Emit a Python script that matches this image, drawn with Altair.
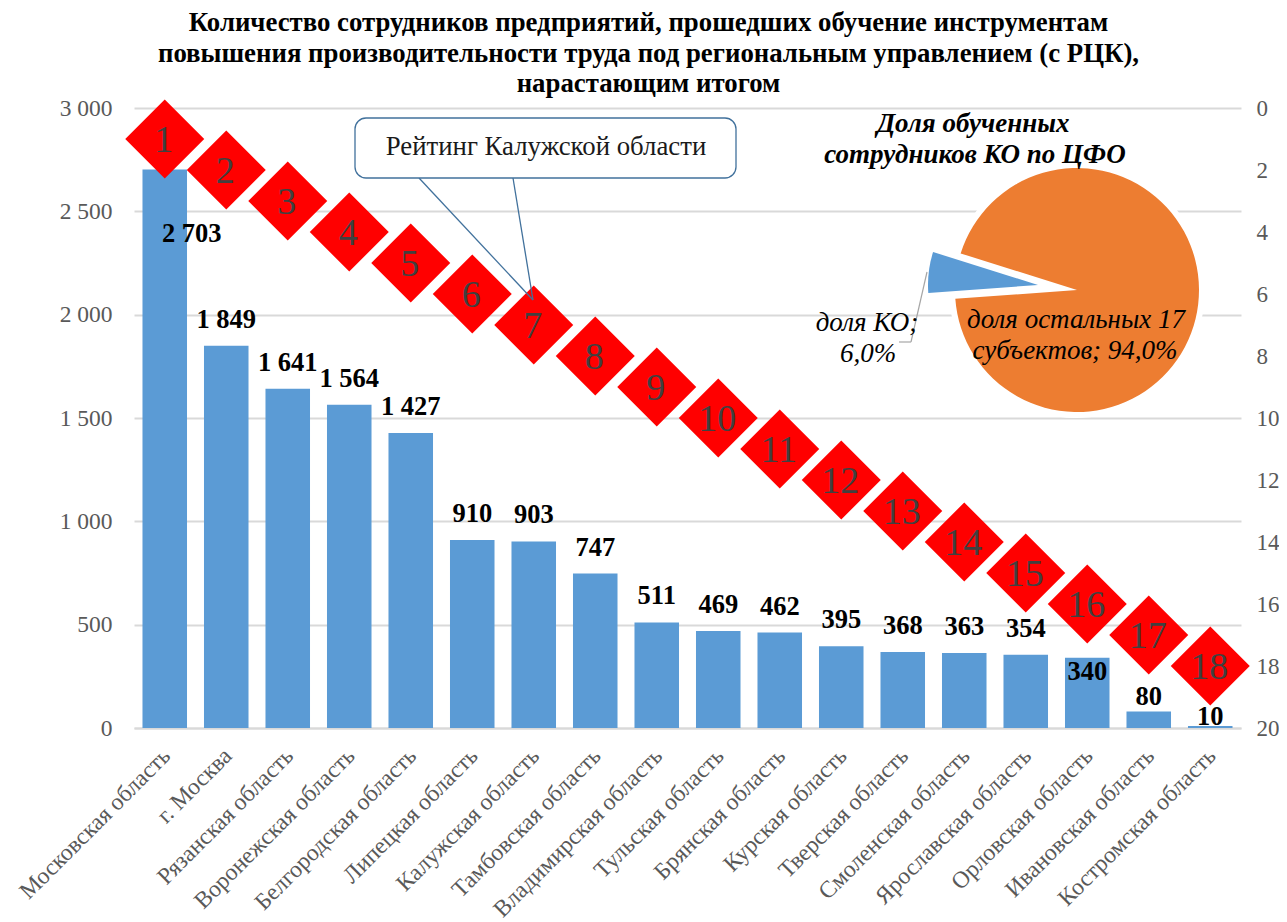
import altair as alt
import pandas as pd

regions = ["Московская область", "г. Москва", "Рязанская область", "Воронежская область",
           "Белгородская область", "Липецкая область", "Калужская область", "Тамбовская область",
           "Владимирская область", "Тульская область", "Брянская область", "Курская область",
           "Тверская область", "Смоленская область", "Ярославская область", "Орловская область",
           "Ивановская область", "Костромская область"]
trained = [2703, 1849, 1641, 1564, 1427, 910, 903, 747, 511, 469, 462, 395, 368, 363, 354, 340, 80, 10]
ranks = list(range(1, 19))
share_names = ["доля КО", "доля остальных 17 субъектов"]
shares = [6.0, 94.0]

title_lines = ["Количество сотрудников предприятий, прошедших обучение инструментам",
               "повышения производительности труда под региональным управлением (с РЦК),",
               "нарастающим итогом"]

SERIF = "Liberation Serif"
GRID = "#d9d9d9"
GREY = "#595959"
L, T, W, H = 134, 108, 1107, 620

df = pd.DataFrame({"region": regions, "value": trained, "rank": ranks})
df["label"] = [f"{v:,}".replace(",", " ") for v in trained]

x_enc = alt.X("region:N", sort=regions, title=None,
              scale=alt.Scale(paddingInner=0.276, paddingOuter=0.138),
              axis=alt.Axis(labelAngle=-45, labelAlign="right", labelBaseline="middle",
                            labelFont=SERIF, labelFontSize=23.6, labelColor=GREY, labelPadding=24,
                            labelOffset=2, ticks=False, domainColor=GRID, domainWidth=2,
                            labelOverlap=False, labelLimit=400, grid=False))

y_left = alt.Y("value:Q", title=None,
               scale=alt.Scale(domain=[0, 3000], nice=False),
               axis=alt.Axis(values=[0, 500, 1000, 1500, 2000, 2500, 3000],
                             labelExpr="replace(format(datum.value, ','), ',', ' ')",
                             labelFont=SERIF, labelFontSize=23.5, labelColor=GREY, labelPadding=22,
                             ticks=False, domain=False, grid=True, gridColor=GRID, gridWidth=2))

y_right = alt.Y("rank:Q", title=None,
                scale=alt.Scale(domain=[0, 20], reverse=True, nice=False),
                axis=alt.Axis(orient="right", values=list(range(0, 21, 2)),
                              labelFont=SERIF, labelFontSize=23, labelColor=GREY, labelPadding=15,
                              labelAlign="left", ticks=False, domain=False, grid=False))

bars = alt.Chart(df).mark_bar(color="#5b9bd5").encode(x=x_enc, y=y_left)


def value_labels(keep, dx, dy):
    part = df[df["value"].isin(keep)]
    return alt.Chart(part).mark_text(font=SERIF, fontWeight="bold", fontSize=26.5, color="black",
                                     baseline="middle", dx=dx, dy=dy).encode(
        x=x_enc, y=y_left, text="label:N")


special = [2703, 340, 80, 10]
regular = [v for v in trained if v not in special]
left = alt.layer(bars,
                 value_labels(regular, 0, -26),
                 value_labels([2703], 27, 65),
                 value_labels([340], 0, 14),
                 value_labels([80], 0, -14),
                 value_labels([10], 0, -9))

diamonds = alt.Chart(df).mark_point(shape="diamond", filled=True, color="#ff0000", opacity=1,
                                    size=6240, strokeWidth=0).encode(x=x_enc, y=y_right)
rank_text = alt.Chart(df).mark_text(font=SERIF, fontSize=38, color="#404040", baseline="middle",
                                    dx=-1, dy=2).encode(x=x_enc, y=y_right, text="rank:N")
rating = alt.layer(diamonds, rank_text)


def px(x):
    return alt.value(x - L)


def py(y):
    return alt.value(y - T)


def note(text, x, y, **style):
    opts = dict(font=SERIF, baseline="middle", color="black")
    opts.update(style)
    return alt.Chart(pd.DataFrame({"t": [text]})).mark_text(**opts).encode(
        x=px(x), y=py(y), text="t:N")


def seg(x1, y1, x2, y2, color, width):
    return alt.Chart(pd.DataFrame({"a": [0]})).mark_rule(color=color, strokeWidth=width).encode(
        x=px(x1), x2=px(x2), y=py(y1), y2=py(y2))


callout = [
    seg(419, 178, 533, 300, "#41719c", 1.3),
    seg(513, 178, 533, 300, "#41719c", 1.3),
    alt.Chart(pd.DataFrame({"a": [0]})).mark_rect(
        fill="white", stroke="#41719c", strokeWidth=1.3, cornerRadius=11).encode(
        x=px(355), x2=px(736), y=py(118), y2=py(178)),
    note("Рейтинг Калужской области", 546, 147, fontSize=26.8, color="#1a1a1a"),
]

pie_df = pd.DataFrame({"name": share_names, "share": shares})
pie_df["start"] = pie_df["share"].cumsum() - pie_df["share"]
pie_df["end"] = pie_df["share"].cumsum()
theta_scale = alt.Scale(domain=[0, 100], range=[4.64, 4.64 + 6.28319])


def slice_arc(name, cx, cy, r, color):
    return alt.Chart(pie_df[pie_df["name"] == name]).mark_arc(
        radius=r, color=color, strokeWidth=0).encode(
        x=px(cx), y=py(cy),
        theta=alt.Theta("start:Q", scale=theta_scale),
        theta2="end:Q")


pie = [
    slice_arc(share_names[1], 1077, 290, 128, "white"),
    slice_arc(share_names[0], 1038, 285, 110, "#5b9bd5"),
    slice_arc(share_names[1], 1077, 290, 122, "#ed7d31"),
    seg(927, 272, 911, 342, "#a6a6a6", 1.2),
    seg(911, 342, 899, 342, "#a6a6a6", 1.2),
    note("Доля обученных", 973, 124, fontSize=27, fontWeight="bold", fontStyle="italic"),
    note("сотрудников КО по ЦФО", 975, 155, fontSize=27, fontWeight="bold", fontStyle="italic"),
    note("доля остальных 17", 1076, 320, fontSize=27, fontStyle="italic"),
    note("субъектов; 94,0%", 1075, 351, fontSize=27, fontStyle="italic"),
    note("доля КО;", 867, 323, fontSize=27, fontStyle="italic"),
    note("6,0%", 868, 354, fontSize=27, fontStyle="italic"),
]

chart = alt.layer(left, rating, *callout, *pie).resolve_scale(y="independent").properties(
    width=W, height=H,
    padding={"left": L - 8, "top": T - 8, "right": 38, "bottom": 194},
    autosize=alt.AutoSizeParams(type="none"),
    title=alt.TitleParams(text=title_lines, anchor="middle", font=SERIF, fontSize=26.8,
                          fontWeight="bold", color="black", lineHeight=30.5, offset=-2, dx=-39),
).configure_view(stroke=None)

chart.save("out.html", embed_options={"renderer": "svg", "actions": False})
